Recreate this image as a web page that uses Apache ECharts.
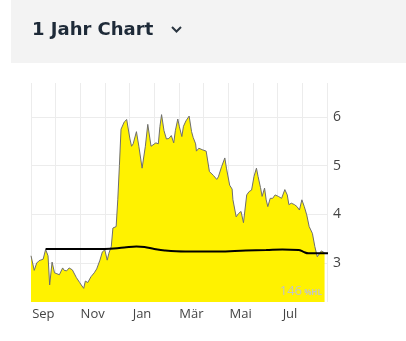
<!DOCTYPE html>
<html>
<head>
<meta charset="utf-8">
<script src="https://cdn.jsdelivr.net/npm/echarts@6/dist/echarts.min.js"></script>
<style>
html,body{margin:0;padding:0;background:#fff;}
#chart{width:406px;height:341px;}
</style>
</head>
<body>
<div id="chart"></div>
<script>
// Month categories (Sep 2022 - Aug 2023)
const months = ['Sep','Okt','Nov','Dez','Jan','Feb','Mär','Apr','Mai','Jun','Jul','Aug'];
// Y tick labels
const yTicks = [3, 4, 5, 6];
// Price series: day offset since 1 Sep 2022 and value
const priceDays = [0,4,7,10,15,18,21,23,26,29,32,35,39,41,44,47,51,56,60,62,65,67,70,74,78,81,85,88,91,94,96,99,101,105,107,109,111,115,118,119,122,124,126,130,133,137,141,144,145,148,150,154,157,159,161,164,167,170,173,176,178,181,183,186,188,191,195,198,200,203,204,207,211,216,220,225,229,231,235,239,241,245,248,249,253,256,259,262,266,269,272,275,278,280,283,285,288,290,292,295,298,301,305,309,313,316,318,321,325,328,331,334,337,340,343,347,350,353,356,358,362];
const priceValues = [3.15,2.85,3.0,3.05,3.08,3.28,3.15,2.55,3.02,2.8,2.78,2.76,2.9,2.85,2.84,2.9,2.86,2.7,2.6,2.55,2.48,2.63,2.6,2.72,2.8,2.88,3.06,3.23,3.27,3.06,3.2,3.34,3.72,3.75,4.3,5.0,5.75,5.9,5.95,5.98,5.55,5.4,5.45,5.7,5.4,4.95,5.4,5.85,5.88,5.4,5.36,5.47,5.45,5.81,6.05,5.72,5.55,5.56,5.62,5.47,5.72,5.96,5.8,5.6,5.81,5.92,6.02,5.7,5.58,5.45,5.3,5.36,5.33,5.3,4.88,4.8,4.72,4.77,4.98,5.16,4.95,4.6,4.52,4.3,3.95,4.02,4.06,3.83,4.4,4.47,4.5,4.78,4.95,4.78,4.55,4.37,4.54,4.3,4.16,4.33,4.33,4.4,4.37,4.33,4.51,4.4,4.2,4.23,4.2,4.16,4.09,4.3,4.16,3.99,3.75,3.61,3.34,3.13,3.2,3.25,3.21];
// Moving average line
const maDays = [18,60,91,115,130,140,152,165,190,230,265,290,310,330,336,342,378];
const maValues = [3.29,3.29,3.29,3.32,3.34,3.33,3.29,3.26,3.24,3.24,3.26,3.27,3.28,3.27,3.23,3.2,3.2];

const priceData = priceDays.map((d, i) => [d, priceValues[i]]);
const maData = maDays.map((d, i) => [d, maValues[i]]);

const chart = echarts.init(document.getElementById('chart'), null, {renderer: 'canvas'});
const fontFam = '"Open Sans", "Noto Sans", sans-serif';
chart.setOption({
  animation: false,
  backgroundColor: '#fff',
  graphic: [
    {type: 'rect', shape: {x: 11, y: 0, width: 395, height: 63}, style: {fill: '#f3f3f3'}, silent: true},
    {type: 'text', left: 32, top: 21, style: {text: '1 Jahr Chart', fill: '#1e2a38', font: 'bold 18px "DejaVu Sans", sans-serif'}},
    {type: 'polyline', shape: {points: [[172, 27], [176.5, 31.5], [181, 27]]}, style: {stroke: '#2a3540', lineWidth: 2, fill: null}},
    {type: 'text', right: 104, top: 285, style: {text: '146', fill: '#c4c4c4', font: '13px ' + fontFam}, z: 10},
    {type: 'text', right: 84, top: 289, style: {text: '%HL', fill: '#c4c4c4', font: 'bold 8px ' + fontFam}, z: 10}
  ],
  grid: {left: 31, top: 83, right: 79, bottom: 39, containLabel: false},
  xAxis: [
    {
      type: 'category', data: months, boundaryGap: true, position: 'bottom',
      axisLine: {show: false}, axisTick: {show: false},
      axisLabel: {interval: 1, color: '#444', fontSize: 13, fontFamily: fontFam, margin: 6},
      splitLine: {show: true, interval: 0, lineStyle: {color: '#ececec', width: 1}}
    },
    {type: 'value', min: 0, max: 365, show: false}
  ],
  yAxis: {
    type: 'value', position: 'right', min: 2.2, max: 6.7,
    axisLine: {show: false},
    axisTick: {show: false, customValues: yTicks},
    axisLabel: {customValues: yTicks, color: '#444', fontSize: 14, fontFamily: fontFam, margin: 6},
    splitLine: {show: true, lineStyle: {color: '#ececec', width: 1}}
  },
  series: [
    {
      type: 'line', xAxisIndex: 1, data: priceData, showSymbol: false, smooth: false,
      lineStyle: {color: '#6e6e6e', width: 1},
      areaStyle: {color: '#fff200', opacity: 1, origin: 'start'},
      z: 2
    },
    {
      type: 'line', xAxisIndex: 1, data: maData, showSymbol: false, smooth: 0.4, clip: false,
      lineStyle: {color: '#000', width: 2},
      z: 3
    }
  ]
});
</script>
</body>
</html>
